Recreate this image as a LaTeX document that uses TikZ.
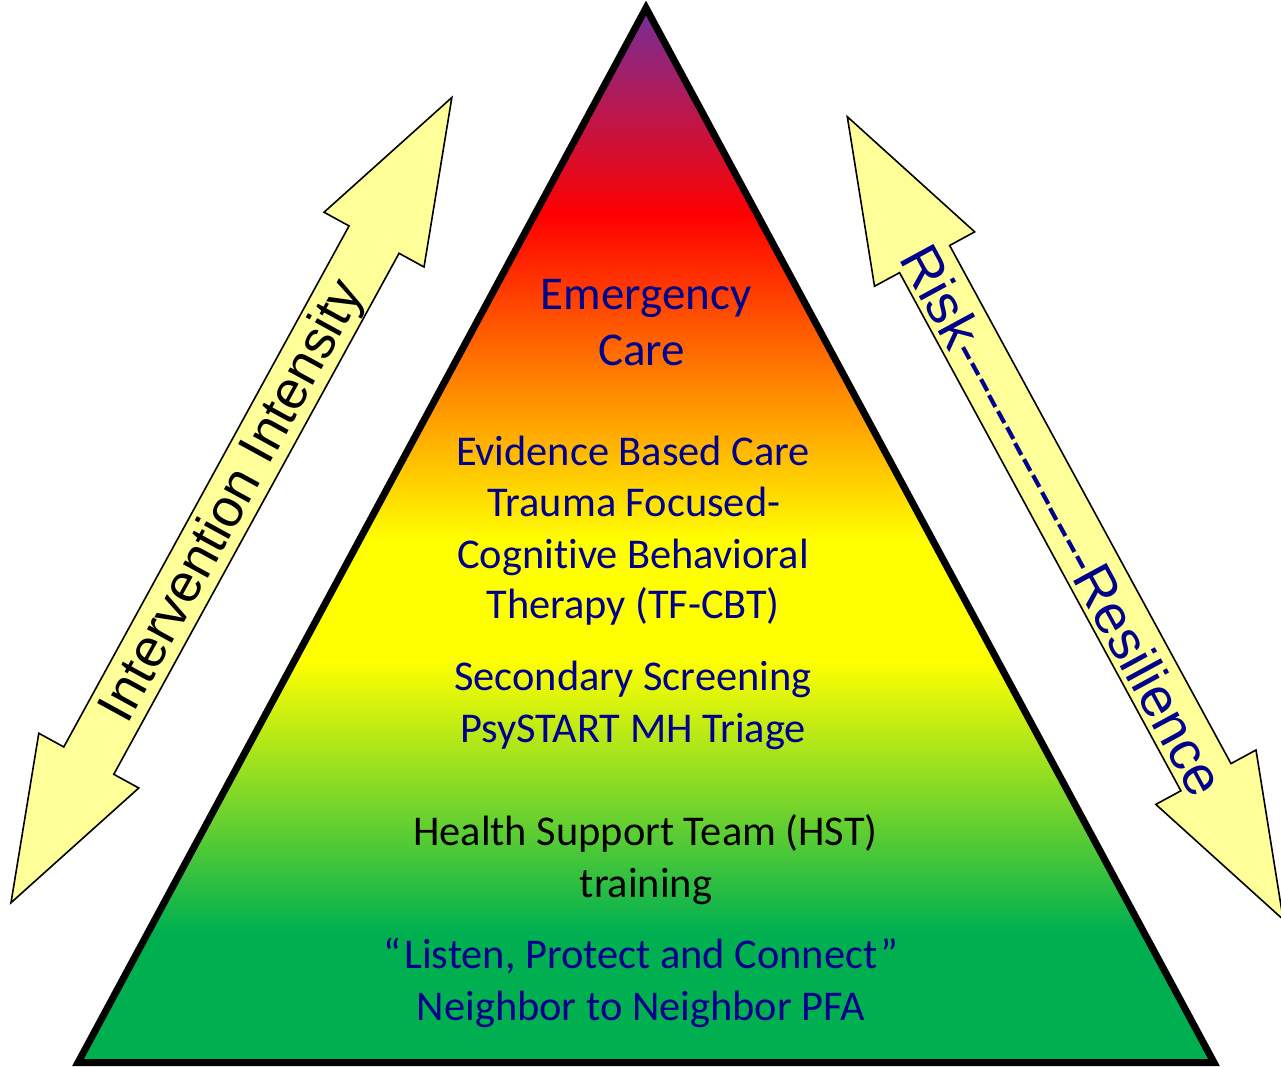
\documentclass[tikz,border=0pt]{standalone}
\usepackage{fontspec}
\setmainfont{Carlito}[Ligatures={NoCommon}]
\newfontfamily\arialfont{Liberation Sans}
\definecolor{tpurple}{HTML}{7030A0}
\definecolor{tred}{HTML}{FF0000}
\definecolor{tyellow}{HTML}{FFFF00}
\definecolor{tgreen}{HTML}{00B050}
\definecolor{navy}{RGB}{0,0,140}
\definecolor{arrowfill}{HTML}{FFFF99}
\begin{document}
\begin{tikzpicture}[x=1pt,y=-1pt,
  body/.style={font=\fontsize{42.4}{50}\selectfont, text=navy, anchor=base, inner sep=0pt},
  bigbody/.style={body, font=\fontsize{47}{56}\selectfont},
  blackbody/.style={body, text=black},
  arrowshape/.style={draw=black, line width=1.6pt, fill=arrowfill, line join=miter},
  arrowtext/.style={font=\arialfont\fontsize{53.5}{60}\selectfont, inner sep=0pt},
  risktext/.style={font=\arialfont\fontsize{55}{60}\selectfont, inner sep=0pt, text=navy}]
\useasboundingbox (0,0) rectangle (1281,1066);
% pyramid
\coordinate (apex) at (646,8);
\coordinate (bl) at (78,1062.5);
\coordinate (br) at (1214,1062.5);
\begin{scope}
  \clip (apex) -- (bl) -- (br) -- cycle;
  \shade[top color=tpurple, bottom color=tred] (70,0) rectangle (1230,216);
  \shade[top color=tred, bottom color=tyellow] (70,215) rectangle (1230,541);
  \fill[tyellow] (70,540) rectangle (1230,661);
  \shade[top color=tyellow, bottom color=tgreen] (70,660) rectangle (1230,931);
  \fill[tgreen] (70,930) rectangle (1230,1070);
\end{scope}
\draw[line width=7pt, line join=miter] (apex) -- (bl) -- (br) -- cycle;
% left double arrow
\begin{scope}[shift={(11,902.7)}, rotate=61.3]
  \draw[arrowshape] (0,0) -- (162,57) -- (162,28.5) -- (756,28.5) -- (756,57) -- (918,0)
    -- (756,-57) -- (756,-28.5) -- (162,-28.5) -- (162,-57) -- cycle;
\end{scope}
% right double arrow
\begin{scope}[shift={(847.3,116.7)}, rotate=-61.5]
  \draw[arrowshape] (0,0) -- (162,57) -- (162,28.5) -- (751.6,28.5) -- (751.6,57) -- (913.6,0)
    -- (751.6,-57) -- (751.6,-28.5) -- (162,-28.5) -- (162,-57) -- cycle;
\end{scope}
\node[arrowtext, rotate=61.3] (intensity) at (234,502) {Intervention Intensity};
\node[risktext, rotate=-61.5] (risk) at (1063,520) {Risk--------------Resilience};
% pyramid texts
\node[bigbody] (em1) at (646,309) {Emergency};
\node[bigbody] (em2) at (641.5,365) {Care};
\node[body] (ev1) at (633,465) {Evidence Based Care};
\node[body] (ev2) at (634,516) {Trauma Focused-};
\node[body] (ev3) at (633,568) {Cognitive Behavioral};
\node[body] (ev4) at (633,618) {Therapy (TF-CBT)};
\node[body] (sc1) at (633,690) {Secondary Screening};
\node[body] (sc2) at (633,742) {PsySTART MH Triage};
\node[blackbody] (hs1) at (645.5,845) {Health Support Team (HST)};
\node[blackbody] (hs2) at (646,897) {training};
\node[body] (pf1) at (641,968) {“\kern3pt Listen, Protect and Connect\kern3pt”};
\node[body] (pf2) at (641,1020) {Neighbor to Neighbor PFA};
\end{tikzpicture}
\end{document}
